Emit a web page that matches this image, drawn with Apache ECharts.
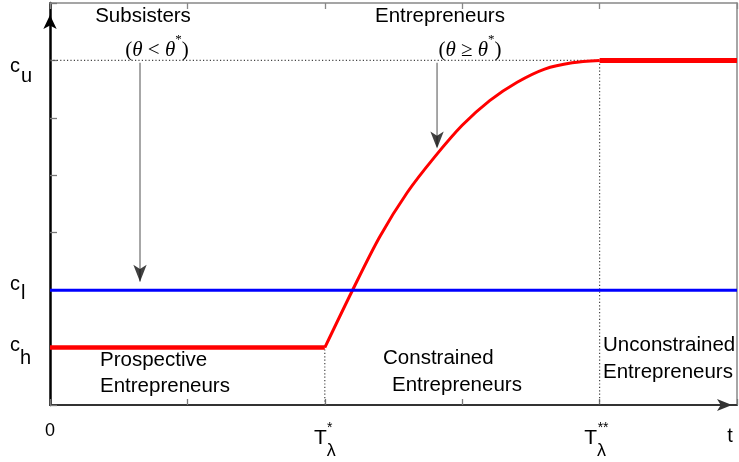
<!DOCTYPE html>
<html>
<head>
<meta charset="utf-8">
<script src="https://cdn.jsdelivr.net/npm/echarts/dist/echarts.min.js"></script>
<style>
  html, body { margin: 0; padding: 0; background: #fff; }
  #chart { width: 739px; height: 462px; }
</style>
</head>
<body>
<div id="chart"></div>
<script>
// Consumption paths over time t (abstract units)
const lowPhase    = [[0, 1], [2, 1]];                       // prospective entrepreneurs at c_h
const risePhase   = [[2, 1], [2.2, 1.99], [2.4, 2.93], [2.6, 3.70], [2.8, 4.32],
                     [3.0, 4.87], [3.2, 5.30], [3.4, 5.62], [3.6, 5.85], [3.8, 5.96],
                     [4, 6]];
const highPhase   = [[4, 6], [5, 6]];                       // unconstrained entrepreneurs at c_u
const subsistence = [[0, 2], [5, 2]];                       // subsisters at c_l

// Reference levels and thresholds
const levelU = 6, levelL = 2, levelH = 1;
const tStar = 2, tStarStar = 4;

// Tick labels
const yLabelText = { 6: ['c', 'u'], 2: ['c', 'l'], 1: ['c', 'h'] };
const xLabelText = { 2: 'T', 4: 'T' };
const xMarkText  = { 0: '0', 2: '*', 4: '**', 5: 't' };

const FONT = 'Liberation Sans';
const SERIF = 'Liberation Serif';
const INK = '#000';

function path(data, color, width, extra) {
  return Object.assign({
    type: 'line', data: data, symbol: 'none', silent: true,
    lineStyle: { color: color, width: width },
    itemStyle: { color: color }
  }, extra || {});
}
function dotted(data) {
  return path(data, '#444', 1.2, { lineStyle: { color: '#444', width: 1.2, type: [1.2, 2.2] } });
}
function arrowHead(point) {
  return {
    type: 'scatter', data: [point], silent: true,
    symbol: 'arrow', symbolSize: [10, 17], symbolRotate: 180, symbolOffset: [0, -8.5],
    itemStyle: { color: '#111' }, z: 5
  };
}

const notes = [
  { text: 'Subsisters', at: [0.677, 6.77], align: 'center' },
  { text: 'Entrepreneurs', at: [2.838, 6.77], align: 'center' },
  { text: '{p|(}{i|θ}{p| < }{i|θ}{sup|*}{p|)}', at: [0.779, 6.18], align: 'center' },
  { text: '{p|(}{i|θ}{p| ≥ }{i|θ}{sup|*}{p|)}', at: [3.057, 6.18], align: 'center' },
  { text: 'Prospective', at: [0.364, 0.78], align: 'left' },
  { text: 'Entrepreneurs', at: [0.364, 0.33], align: 'left' },
  { text: 'Constrained', at: [2.424, 0.82], align: 'left' },
  { text: 'Entrepreneurs', at: [2.489, 0.35], align: 'left' },
  { text: 'Unconstrained', at: [4.025, 1.045], align: 'left' },
  { text: 'Entrepreneurs', at: [4.025, 0.575], align: 'left' }
];

const arrowX1 = 0.655, arrowX2 = 2.817;

const chart = echarts.init(document.getElementById('chart'), null, { renderer: 'canvas' });

const baseX = { type: 'value', min: 0, max: 5, interval: 1, splitLine: { show: false } };
const baseY = { type: 'value', min: 0, max: 7, interval: 1, splitLine: { show: false } };

chart.setOption({
  animation: false,
  backgroundColor: '#fff',
  grid: { left: 50, right: 2, top: 3, bottom: 57, outerBoundsMode: 'none', containLabel: false },
  xAxis: [
    Object.assign({}, baseX, {
      position: 'bottom',
      axisLine: { show: true, onZero: false, symbol: ['none', 'arrow'], symbolSize: [9, 15], symbolOffset: [0, -5],
                  lineStyle: { color: '#333', width: 2 } },
      axisTick: { show: true, inside: true, length: 6, lineStyle: { color: '#777', width: 1.3 } },
      axisLabel: {
        show: true, margin: 21, showMinLabel: true, showMaxLabel: true,
        formatter: function (v) {
          if (v === tStar) return '{T|' + xLabelText[v] + '}{l1|λ}';
          if (v === tStarStar) return '{T|' + xLabelText[v] + '}{l2|λ}';
          return '';
        },
        rich: {
          T:  { fontFamily: FONT, fontSize: 21, lineHeight: 24, color: INK },
          l1: { fontFamily: FONT, fontSize: 18, lineHeight: 20, color: INK, padding: [26, 0, 0, 0] },
          l2: { fontFamily: FONT, fontSize: 18, lineHeight: 20, color: INK, padding: [26, 9, 0, 0] }
        }
      }
    }),
    Object.assign({}, baseX, {
      position: 'top',
      axisLine: { show: true, onZero: false, lineStyle: { color: '#888', width: 1.5 } },
      axisTick: { show: true, inside: true, length: 6, lineStyle: { color: '#888', width: 1.3 } },
      axisLabel: { show: false }
    }),
    Object.assign({}, baseX, {
      position: 'bottom',
      axisLine: { show: false, onZero: false },
      axisTick: { show: false },
      axisLabel: {
        show: true, margin: 15, showMinLabel: true, showMaxLabel: true,
        formatter: function (v) {
          const t = xMarkText[v];
          if (t === undefined) return '';
          return '{m' + v + '|' + t + '}';
        },
        rich: {
          m0: { fontFamily: FONT, fontSize: 18, lineHeight: 22, color: INK },
          m2: { fontFamily: FONT, fontSize: 14, lineHeight: 16, color: INK, padding: [0, 0, 0, 10] },
          m4: { fontFamily: FONT, fontSize: 14, lineHeight: 16, color: INK, padding: [0, 0, 0, 7] },
          m5: { fontFamily: FONT, fontSize: 20, lineHeight: 32, color: INK, padding: [0, 14, 0, 0] }
        }
      }
    })
  ],
  yAxis: [
    Object.assign({}, baseY, {
      position: 'left',
      axisLine: { show: true, onZero: false, symbol: ['none', 'arrow'], symbolSize: [10, 14], symbolOffset: [0, -12],
                  lineStyle: { color: '#000', width: 2.5 } },
      axisTick: { show: true, inside: true, length: 7, lineStyle: { color: '#777', width: 1.3 } },
      axisLabel: {
        show: true, margin: 40, align: 'left', showMinLabel: true, showMaxLabel: true,
        formatter: function (v) {
          const t = yLabelText[v];
          if (!t) return '';
          return '{c' + v + '|' + t[0] + '}{s' + v + '|' + t[1] + '}';
        },
        rich: {
          c6: { fontFamily: FONT, fontSize: 20, color: INK, padding: [12, 0, 0, 0] },
          s6: { fontFamily: FONT, fontSize: 20, color: INK, padding: [32, 0, 0, 1] },
          c2: { fontFamily: FONT, fontSize: 20, color: INK, padding: [0, 0, 12, 0] },
          s2: { fontFamily: FONT, fontSize: 20, color: INK, padding: [6, 0, 0, 1] },
          c1: { fontFamily: FONT, fontSize: 20, color: INK, padding: [0, 0, 4, 0] },
          s1: { fontFamily: FONT, fontSize: 20, color: INK, padding: [22, 0, 0, 0] }
        }
      }
    }),
    Object.assign({}, baseY, {
      position: 'right',
      axisLine: { show: true, onZero: false, lineStyle: { color: '#888', width: 1.5 } },
      axisTick: { show: false },
      axisLabel: { show: false }
    })
  ],
  series: [
    // guide lines
    dotted([[0, levelU], [tStarStar, levelU]]),
    dotted([[tStar, 0], [tStar, levelH]]),
    dotted([[tStarStar, 0], [tStarStar, levelU]]),
    // entrepreneurs' consumption path
    path(lowPhase, '#ff0000', 4.5),
    path(risePhase, '#ff0000', 3, { smooth: 0.3 }),
    path(highPhase, '#ff0000', 5),
    // subsisters' consumption
    path(subsistence, '#0000ff', 3),
    // pointer arrows
    path([[arrowX1, 5.96], [arrowX1, levelL + 0.15]], '#8a8a8a', 1.5, { z: 4 }),
    arrowHead([arrowX1, levelL]),
    path([[arrowX2, 5.96], [arrowX2, 4.5]], '#8a8a8a', 1.5, { z: 4 }),
    arrowHead([arrowX2, 4.32]),
    // annotations
    {
      type: 'scatter', silent: true, symbol: 'circle', symbolSize: 0, z: 6,
      itemStyle: { color: '#000', opacity: 1 },
      label: {
        show: true, position: 'inside', fontFamily: FONT, fontSize: 20.5, color: '#000',
        textBorderWidth: 0, opacity: 1,
        rich: {
          p:   { fontFamily: SERIF, fontSize: 21, color: '#000' },
          i:   { fontFamily: SERIF, fontSize: 21, fontStyle: 'italic', color: '#000' },
          sup: { fontFamily: SERIF, fontSize: 13, color: '#000', padding: [0, 0, 22, 0] }
        }
      },
      data: notes.map(function (n) {
        return { value: n.at, label: { formatter: n.text, align: n.align } };
      })
    }
  ]
});
</script>
</body>
</html>
